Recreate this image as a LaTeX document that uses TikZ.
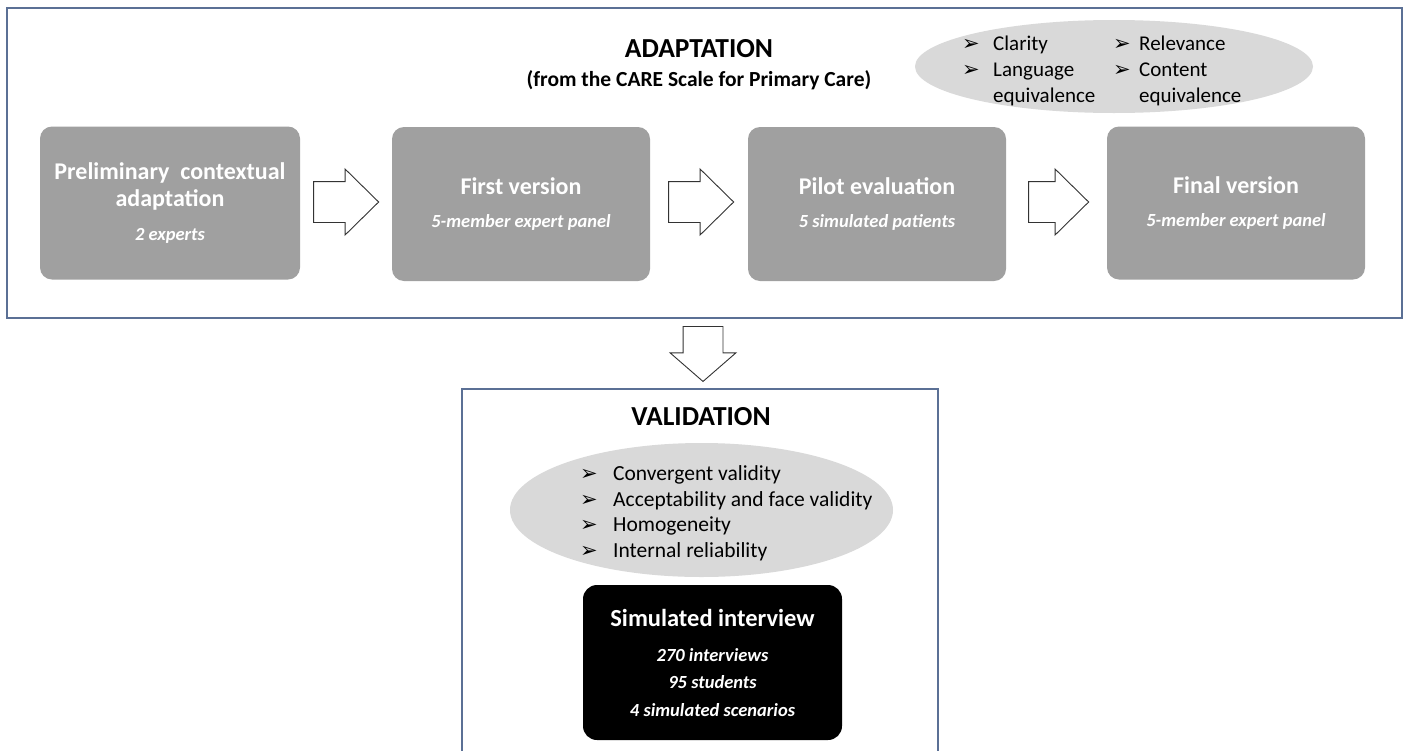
\documentclass[tikz,border=0pt]{standalone}
\usepackage{fontspec}
\setmainfont{Carlito}
\newfontfamily\bulfont{DejaVu Sans}
\usetikzlibrary{
  arrows.meta,
  shapes.geometric,
  shapes.arrows,
  positioning,
  calc
}
\definecolor{frameBlue}{HTML}{5B7095}
\definecolor{stageGray}{HTML}{A0A0A0}
\definecolor{critGray}{HTML}{D9D9D9}
\definecolor{arrowInk}{HTML}{333333}
\newcommand{\bul}{{\bulfont\fontsize{21}{21}\selectfont ➢}}
\newcommand{\stagesub}{\bfseries\itshape\fontsize{18.5}{20}\selectfont}
\tikzset{
  panel/.style={draw=frameBlue, line width=1.8pt, fill=white, inner sep=0pt},
  stage/.style={
    rounded corners=12pt, fill=stageGray, text=white, align=center,
    minimum width=258pt, minimum height=154pt, inner sep=0pt,
    font=\bfseries\fontsize{24}{27}\selectfont
  },
  interview/.style={stage, fill=black, minimum width=259pt, minimum height=155pt,
    rounded corners=14pt, font=\bfseries\fontsize{24.5}{27.5}\selectfont},
  crit/.style={ellipse, fill=critGray, inner sep=0pt},
  blockarrow/.style={
    single arrow, draw=arrowInk, fill=white, line width=0.9pt, inner sep=0pt,
    text width=0pt, text height=20pt, text depth=20pt,
    single arrow head extend=12.5pt, single arrow tip angle=89,
    minimum height=65pt, anchor=tail
  },
  heading/.style={font=\bfseries\fontsize{27.5}{30}\selectfont, inner sep=0pt},
  critlist/.style={font=\fontsize{21}{26}\selectfont, inner sep=0pt, anchor=west}
}
\begin{document}
\begin{tikzpicture}[x=1pt, y=-1pt]
  \useasboundingbox (0,0) rectangle (1408,750);
  % adaptation panel
  \node[panel, minimum width=1395pt, minimum height=310pt] (adapt) at (704.5,163) {};
  \node[heading] (adapttitle) at (699,49) {ADAPTATION};
  \node[font=\bfseries\fontsize{21.5}{24}\selectfont, inner sep=0pt] (adaptsub) at (699,80) {(from the CARE Scale for Primary Care)};
  \node[crit, minimum width=398pt, minimum height=93pt] (critA) at (1114,66.5) {};
  \node[critlist] (critAtext) at (962,71.5) {%
    \begin{tabular}{@{}p{31pt}@{}p{120pt}@{}p{26pt}@{}l@{}}
      \bul & Clarity & \bul & Relevance\\
      \bul & Language & \bul & Content\\
           & equivalence & & equivalence
    \end{tabular}};
  % stages
  \node[stage, minimum width=260pt, minimum height=153pt] (prelim) at (170,203)
    {Preliminary\ \ contextual\\adaptation\\[7pt]{\stagesub 2 experts}};
  \node[stage] (first) at (521,204)
    {First version\\[6pt]{\stagesub 5-member expert panel}};
  \node[stage] (pilot) at (877,204)
    {Pilot\ evaluation\\[6pt]{\stagesub 5 simulated patients}};
  \node[stage, minimum height=153pt] (final) at (1236,203)
    {Final version\\[6pt]{\stagesub 5-member expert panel}};
  \node[blockarrow] (a1) at ($(prelim.east)+(13,-1)$) {};
  \node[blockarrow] (a2) at ($(first.east)+(18,-2)$) {};
  \node[blockarrow, minimum height=60pt] (a3) at ($(pilot.east)+(22,-2)$) {};
  % validation panel
  \node[blockarrow, rotate=-90, minimum height=55pt, text height=19.5pt, text depth=19.5pt,
        single arrow head extend=13pt, single arrow tip angle=98] (down) at (703,326) {};
  \node[panel, minimum width=476pt, minimum height=400pt] (valid) at (700,589) {};
  \node[heading] (validtitle) at (701,417) {VALIDATION};
  \node[crit, minimum width=383pt, minimum height=134pt] (critV) at (701.5,510) {};
  \node[critlist, font=\fontsize{21.5}{25.7}\selectfont] (critVtext) at (580,514) {%
    \begin{tabular}{@{}p{33pt}@{}l@{}}
      \bul & Convergent validity\\
      \bul & Acceptability\ and face validity\\
      \bul & Homogeneity\\
      \bul & Internal reliability
    \end{tabular}};
  \node[interview] (sim) at (712.5,662.5)
    {Simulated\ interview\\[7.5pt]{\stagesub 270 interviews}\\{\stagesub 95 students}\\{\stagesub 4 simulated scenarios}};
\end{tikzpicture}
\end{document}
